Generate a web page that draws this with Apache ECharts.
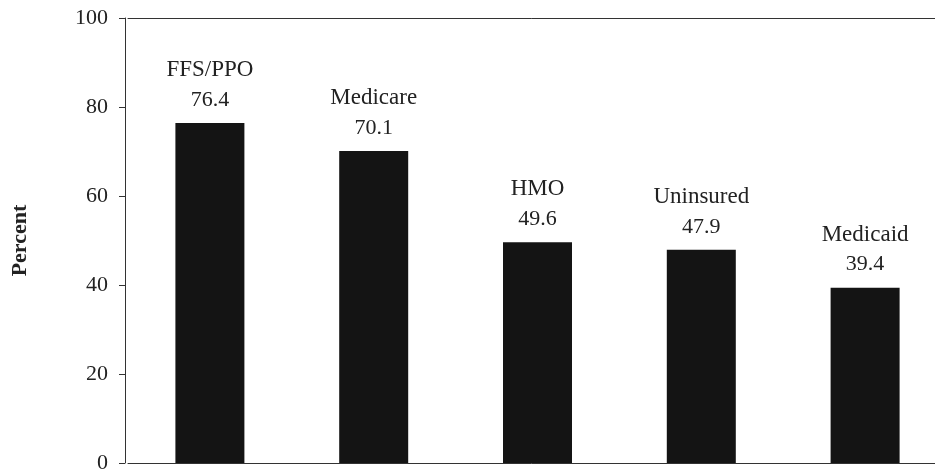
<!DOCTYPE html>
<html>
<head>
<meta charset="utf-8">
<script src="https://cdn.jsdelivr.net/npm/echarts@6/dist/echarts.min.js"></script>
<style>
html,body{margin:0;padding:0;background:#fff;}
#chart{width:935px;height:473px;}
</style>
</head>
<body>
<div id="chart"></div>
<script>
const categories = ['FFS/PPO', 'Medicare', 'HMO', 'Uninsured', 'Medicaid'];
const values = [76.4, 70.1, 49.6, 47.9, 39.4];
const yTicks = [0, 20, 40, 60, 80, 100];

const chart = echarts.init(document.getElementById('chart'));
const serif = '"Liberation Serif", "Times New Roman", serif';
chart.setOption({
  animation: false,
  backgroundColor: '#ffffff',
  grid: { left: 128, right: -12, top: 18, bottom: 10, containLabel: false, outerBoundsMode: 'none' },
  xAxis: [
    {
      type: 'category',
      data: categories,
      position: 'bottom',
      axisLine: { show: true, lineStyle: { color: '#333', width: 1 } },
      axisTick: { show: false },
      axisLabel: { show: false },
      splitLine: { show: false }
    },
    {
      type: 'category',
      data: categories,
      position: 'top',
      axisLine: { show: true, onZero: false, lineStyle: { color: '#333', width: 1 } },
      axisTick: { show: false },
      axisLabel: { show: false },
      splitLine: { show: false }
    }
  ],
  yAxis: {
    type: 'value',
    min: yTicks[0],
    max: yTicks[yTicks.length - 1],
    interval: 20,
    offset: 3,
    name: 'Percent',
    nameLocation: 'middle',
    nameGap: 94,
    nameTextStyle: { fontFamily: serif, fontSize: 22, fontWeight: 'bold', color: '#222' },
    axisLine: { show: true, lineStyle: { color: '#333', width: 1 } },
    axisTick: { show: true, inside: false, length: 6, lineStyle: { color: '#333' } },
    axisLabel: { fontFamily: serif, fontSize: 22, color: '#222', margin: 17 },
    splitLine: { show: false }
  },
  series: [{
    type: 'bar',
    data: values,
    barWidth: 69,
    itemStyle: { color: '#141414' },
    label: {
      show: true,
      position: 'top',
      distance: 8,
      formatter: '{n|{b}}\n{v|{c}}',
      rich: {
        n: { fontFamily: serif, fontSize: 23, color: '#222', lineHeight: 30 },
        v: { fontFamily: serif, fontSize: 22, color: '#222', lineHeight: 30 }
      }
    }
  }]
});
</script>
</body>
</html>
